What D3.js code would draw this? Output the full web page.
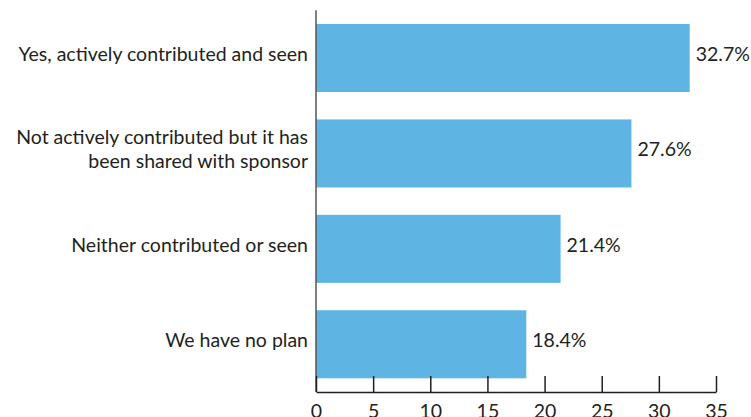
<!DOCTYPE html>
<html>
<head>
<meta charset="utf-8">
<script src="https://cdn.jsdelivr.net/npm/d3@7"></script>
<style>
  html, body { margin: 0; padding: 0; background: #fff; }
  svg { display: block; }
  text { font-family: "Lato", sans-serif; fill: #231f20; }
</style>
</head>
<body>
<svg id="chart" width="751" height="417"></svg>
<script>
// Survey answers, top to bottom
const categories = [
  ["Yes, actively contributed and seen"],
  ["Not actively contributed but it has", "been shared with sponsor"],
  ["Neither contributed or seen"],
  ["We have no plan"]
];
const values = [32.7, 27.6, 21.4, 18.4];
const tickValues = [0, 5, 10, 15, 20, 25, 30, 35];

const svg = d3.select("#chart");
const x0 = 316, x1 = 716, yTop = 10.3, yBottom = 392;
const fontSize = 19.5;
const baseShift = 3; // baseline offset below the bar centre

const x = d3.scaleLinear().domain([0, 35]).range([x0, x1]);
const y = d3.scaleBand()
  .domain(d3.range(values.length))
  .range([yTop, yBottom])
  .paddingInner(0.287)
  .paddingOuter(0.1435);

// Bars
svg.selectAll("rect.bar")
  .data(values)
  .join("rect")
  .attr("class", "bar")
  .attr("x", x(0))
  .attr("y", (d, i) => y(i))
  .attr("width", d => x(d) - x(0))
  .attr("height", y.bandwidth())
  .attr("fill", "#5eb5e3");

// Value labels
svg.selectAll("text.val")
  .data(values)
  .join("text")
  .attr("class", "val")
  .attr("x", d => x(d) + 6)
  .attr("y", (d, i) => y(i) + y.bandwidth() / 2 + baseShift)
  .attr("font-size", fontSize)
  .text(d => d.toFixed(1) + "%");

// Category labels
const lineH = 24;
svg.selectAll("text.cat")
  .data(categories)
  .join("text")
  .attr("class", "cat")
  .attr("text-anchor", "end")
  .attr("font-size", fontSize)
  .each(function(lines, i) {
    const cy = y(i) + y.bandwidth() / 2 + baseShift - (lines.length - 1) * lineH / 2;
    d3.select(this).selectAll("tspan")
      .data(lines)
      .join("tspan")
      .attr("x", 308)
      .attr("y", (l, j) => cy + j * lineH)
      .text(l => l);
  });

// Vertical category axis line
svg.append("line")
  .attr("x1", x0).attr("x2", x0)
  .attr("y1", yTop).attr("y2", yBottom)
  .attr("stroke", "#555").attr("stroke-width", 1.5);

// Bottom value axis with upward ticks
const axis = svg.append("g")
  .attr("transform", `translate(0,${yBottom})`)
  .call(d3.axisBottom(x).tickValues(tickValues).tickSize(-16).tickPadding(0).tickSizeOuter(0));
axis.select(".domain").attr("stroke", "#231f20").attr("stroke-width", 1.5);
axis.selectAll(".tick line").attr("stroke", "#231f20").attr("stroke-width", 1.5);
axis.selectAll(".tick text")
  .attr("y", 26)
  .attr("dy", null)
  .attr("font-size", fontSize)
  .attr("font-family", "Lato, sans-serif")
  .attr("fill", "#231f20");
</script>
</body>
</html>
